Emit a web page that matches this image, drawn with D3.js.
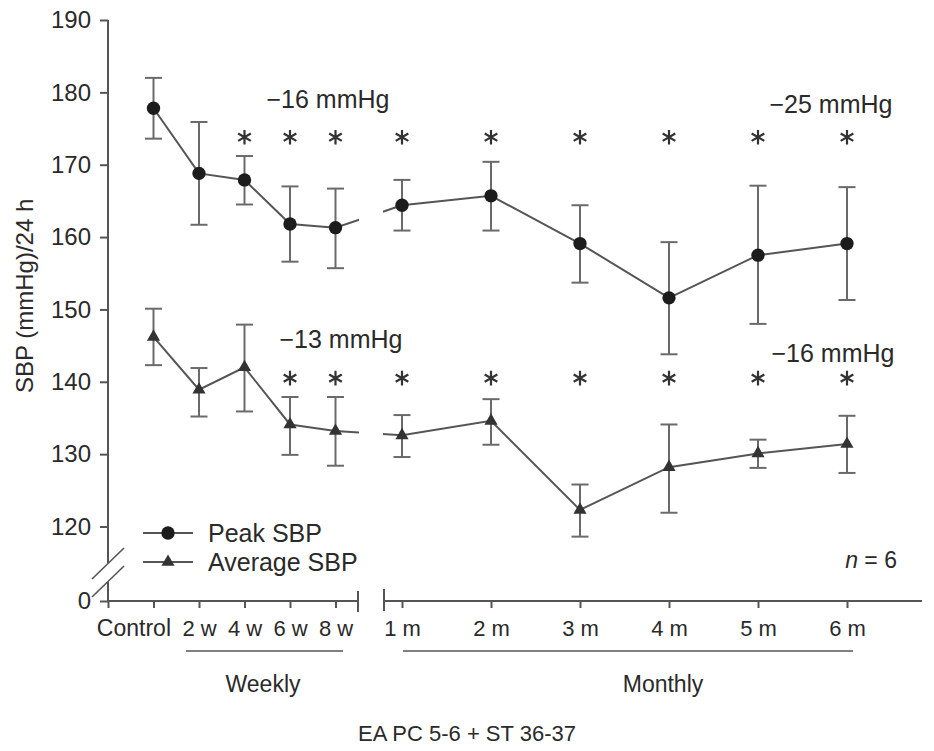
<!DOCTYPE html>
<html>
<head>
<meta charset="utf-8">
<script src="https://cdn.jsdelivr.net/npm/d3@7/dist/d3.min.js"></script>
<style>
  html, body { margin: 0; padding: 0; background: #fff; }
  svg { display: block; }
  text { font-family: "Liberation Sans", Arial, Helvetica, sans-serif; fill: #2a2a2a; }
</style>
</head>
<body>
<svg id="chart" width="934" height="751"></svg>
<script>
// Time points: weekly block then monthly block
const weeklyLabels = ["Control", "2 w", "4 w", "6 w", "8 w"];
const monthlyLabels = ["1 m", "2 m", "3 m", "4 m", "5 m", "6 m"];

// Peak SBP (mmHg/24 h): mean with upper / lower error limits
const peakMean  = [177.8, 168.8, 167.9, 161.8, 161.3, 164.4, 165.7, 159.1, 151.6, 157.5, 159.1];
const peakUpper = [182.0, 175.9, 171.2, 167.0, 166.7, 167.9, 170.4, 164.4, 159.3, 167.1, 166.9];
const peakLower = [173.6, 161.7, 164.5, 156.6, 155.7, 160.9, 160.9, 153.7, 143.8, 148.0, 151.3];

// Average SBP (mmHg/24 h)
const avgMean  = [146.2, 138.9, 142.0, 134.1, 133.2, 132.6, 134.6, 122.3, 128.2, 130.1, 131.4];
const avgUpper = [150.1, 141.9, 147.9, 137.9, 137.9, 135.4, 137.6, 125.8, 134.1, 132.0, 135.3];
const avgLower = [142.3, 135.2, 135.9, 129.9, 128.4, 129.6, 131.3, 118.6, 121.9, 128.1, 127.4];

// Significance markers (1 = *)
const peakSig = [0, 0, 1, 1, 1, 1, 1, 1, 1, 1, 1];
const avgSig  = [0, 0, 0, 1, 1, 1, 1, 1, 1, 1, 1];

const yTicks = [120, 130, 140, 150, 160, 170, 180, 190];

const svg = d3.select("#chart");
const ink = "#2a2a2a", axisCol = "#555", lineCol = "#555", errCol = "#6a6a6a";

// Scales
const y = d3.scaleLinear().domain([120, 190]).range([526.5, 20]);
const yZero = d3.scaleLinear().domain([0, 1]).range([601, 530]);
const xW = d3.scaleLinear().domain([-1, 4]).range([108, 335.5]);
const xM = d3.scaleLinear().domain([1, 6]).range([402, 847]);
const axisY = 601;

const nW = weeklyLabels.length;
const xAt = i => i < nW ? xW(i) : xM(i - nW + 1);
const idx = d3.range(nW + monthlyLabels.length);

// Y axis
const yAxis = svg.append("g").attr("transform", "translate(108,0)")
  .call(d3.axisLeft(y).tickValues(yTicks).tickSize(8).tickPadding(9).tickFormat(d3.format("d")));
const yAxis0 = svg.append("g").attr("transform", "translate(108,0)")
  .call(d3.axisLeft(yZero).tickValues([0]).tickSize(8).tickPadding(9).tickFormat(d3.format("d")));
[yAxis, yAxis0].forEach(g => {
  g.select(".domain").remove();
  g.selectAll("line").attr("stroke", axisCol).attr("stroke-width", 2);
  g.selectAll("text").attr("font-size", 24).attr("fill", ink).attr("font-family", null);
});
// Y axis line with break
svg.append("line").attr("x1", 108).attr("x2", 108).attr("y1", 20).attr("y2", 563)
  .attr("stroke", axisCol).attr("stroke-width", 2);
svg.append("line").attr("x1", 108).attr("x2", 108).attr("y1", 582).attr("y2", axisY)
  .attr("stroke", axisCol).attr("stroke-width", 2);
[[92, 579, 124, 548], [92, 597, 124, 566]].forEach(s => {
  svg.append("line").attr("x1", s[0]).attr("y1", s[1]).attr("x2", s[2]).attr("y2", s[3])
    .attr("stroke", axisCol).attr("stroke-width", 1.6);
});

// X axes (weekly and monthly segments)
const xAxisW = svg.append("g").attr("transform", `translate(0,${axisY})`)
  .call(d3.axisBottom(xW).tickValues([-1, 0, 1, 2, 3, 4]).tickSize(7).tickPadding(12)
    .tickFormat(d => d >= 0 ? weeklyLabels[d] : ""));
const xAxisM = svg.append("g").attr("transform", `translate(0,${axisY})`)
  .call(d3.axisBottom(xM).tickValues(d3.range(1, 7)).tickSize(7).tickPadding(12)
    .tickFormat(d => monthlyLabels[d - 1]));
[xAxisW, xAxisM].forEach(g => {
  g.select(".domain").remove();
  g.selectAll("line").attr("stroke", axisCol).attr("stroke-width", 2);
  g.selectAll("text").attr("font-size", 22).attr("fill", ink).attr("font-family", null);
});
// "Control" sits left of its tick to leave room for "2 w"
xAxisW.selectAll(".tick text").filter(d => d === 0)
  .attr("text-anchor", "end").attr("dx", 17).attr("font-size", 23);

svg.append("line").attr("x1", 107).attr("x2", 358).attr("y1", axisY).attr("y2", axisY)
  .attr("stroke", axisCol).attr("stroke-width", 2);
svg.append("line").attr("x1", 358).attr("x2", 358).attr("y1", 591).attr("y2", 612)
  .attr("stroke", axisCol).attr("stroke-width", 2);
svg.append("line").attr("x1", 384).attr("x2", 922).attr("y1", axisY).attr("y2", axisY)
  .attr("stroke", axisCol).attr("stroke-width", 2);
svg.append("line").attr("x1", 384).attr("x2", 384).attr("y1", 589).attr("y2", 611)
  .attr("stroke", axisCol).attr("stroke-width", 2);

// Group brackets under the x axis
svg.append("line").attr("x1", 186).attr("x2", 343).attr("y1", 651).attr("y2", 651)
  .attr("stroke", axisCol).attr("stroke-width", 1.6);
svg.append("line").attr("x1", 403).attr("x2", 853).attr("y1", 651).attr("y2", 651)
  .attr("stroke", axisCol).attr("stroke-width", 1.6);
svg.append("text").attr("x", 263).attr("y", 692).attr("text-anchor", "middle")
  .attr("font-size", 23).text("Weekly");
svg.append("text").attr("x", 663).attr("y", 692).attr("text-anchor", "middle")
  .attr("font-size", 23).text("Monthly");
svg.append("text").attr("x", 467).attr("y", 741).attr("text-anchor", "middle")
  .attr("font-size", 22).text("EA PC 5-6 + ST 36-37");

// Y axis title
svg.append("text").attr("transform", "translate(33,393) rotate(-90)")
  .attr("font-size", 24).text("SBP (mmHg)/24 h");

// Clip that opens the gap in the connecting line at the axis break
const defs = svg.append("defs");
const clip = defs.append("clipPath").attr("id", "gapClip");
clip.append("rect").attr("x", 0).attr("y", 0).attr("width", 359).attr("height", 751);
clip.append("rect").attr("x", 383).attr("y", 0).attr("width", 600).attr("height", 751);

function drawSeries(mean, upper, lower, symbolType, size, fill) {
  const g = svg.append("g");
  g.append("path")
    .datum(idx)
    .attr("clip-path", "url(#gapClip)")
    .attr("fill", "none").attr("stroke", lineCol).attr("stroke-width", 2)
    .attr("d", d3.line().x(i => xAt(i)).y(i => y(mean[i])));
  const eb = g.selectAll(".eb").data(idx).join("g");
  eb.append("line").attr("x1", i => xAt(i)).attr("x2", i => xAt(i))
    .attr("y1", i => y(upper[i])).attr("y2", i => y(lower[i]))
    .attr("stroke", errCol).attr("stroke-width", 2);
  [upper, lower].forEach(arr => {
    eb.append("line").attr("x1", i => xAt(i) - 8.5).attr("x2", i => xAt(i) + 8.5)
      .attr("y1", i => y(arr[i])).attr("y2", i => y(arr[i]))
      .attr("stroke", errCol).attr("stroke-width", 2);
  });
  g.selectAll(".pt").data(idx).join("path")
    .attr("transform", i => `translate(${xAt(i)},${y(mean[i])})`)
    .attr("d", d3.symbol().type(symbolType).size(size))
    .attr("fill", fill);
}
drawSeries(peakMean, peakUpper, peakLower, d3.symbolCircle, 140, "#1c1c1c");
drawSeries(avgMean, avgUpper, avgLower, d3.symbolTriangle, 75, "#333");

// Significance asterisks
function drawStars(sig, level) {
  svg.append("g").selectAll("path").data(idx.filter(i => sig[i]))
    .join("path")
    .attr("transform", i => `translate(${xAt(i)},${y(level)})`)
    .attr("d", d3.symbol().type(d3.symbolAsterisk).size(150))
    .attr("fill", "none").attr("stroke", "#333").attr("stroke-width", 2.2);
}
drawStars(peakSig, 173.8);
drawStars(avgSig, 140.5);

// Change annotations
const notes = [
  { t: "\u221216 mmHg", x: 328, yb: 108 },
  { t: "\u221225 mmHg", x: 831, yb: 113 },
  { t: "\u221213 mmHg", x: 341, yb: 348 },
  { t: "\u221216 mmHg", x: 833, yb: 362 }
];
svg.append("g").selectAll("text").data(notes).join("text")
  .attr("x", d => d.x).attr("y", d => d.yb).attr("text-anchor", "middle")
  .attr("font-size", 25).text(d => d.t);

// Legend
const legend = [
  { t: "Peak SBP", sym: d3.symbolCircle, size: 140, fill: "#1c1c1c", y: 533 },
  { t: "Average SBP", sym: d3.symbolTriangle, size: 75, fill: "#333", y: 562 }
];
const lg = svg.append("g").selectAll("g").data(legend).join("g");
lg.append("line").attr("x1", 143).attr("x2", 193).attr("y1", d => d.y).attr("y2", d => d.y)
  .attr("stroke", lineCol).attr("stroke-width", 2);
lg.append("path").attr("transform", d => `translate(168,${d.y})`)
  .attr("d", d => d3.symbol().type(d.sym).size(d.size)()).attr("fill", d => d.fill);
lg.append("text").attr("x", 208).attr("y", d => d.y + 8.5).attr("font-size", 25).text(d => d.t);

// Sample size
const nt = svg.append("text").attr("x", 897).attr("y", 568).attr("text-anchor", "end").attr("font-size", 23);
nt.append("tspan").attr("font-style", "italic").text("n");
nt.append("tspan").text(" = 6");
</script>
</body>
</html>
